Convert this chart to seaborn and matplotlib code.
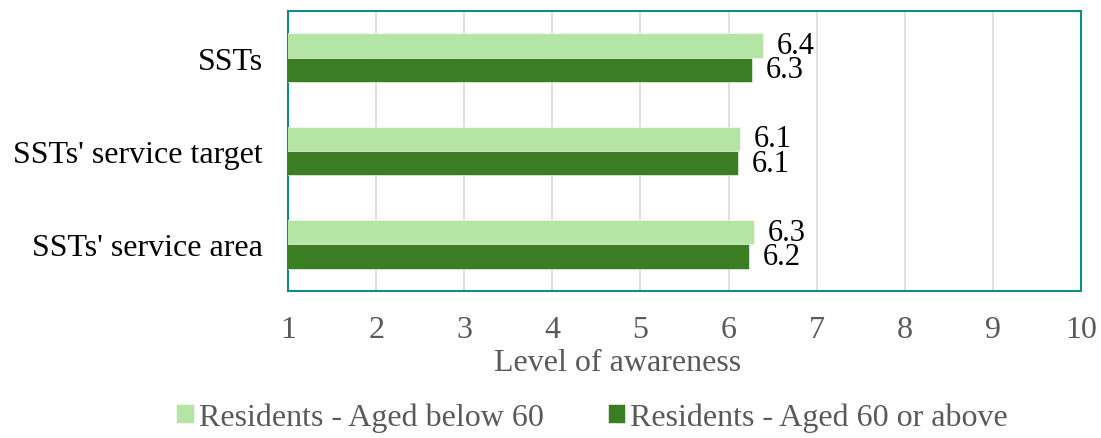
import matplotlib
matplotlib.use("Agg")
import matplotlib.pyplot as plt
import seaborn as sns
import pandas as pd

categories = ["SSTs", "SSTs' service target", "SSTs' service area"]
below_60 = [6.39, 6.13, 6.29]
above_60 = [6.27, 6.11, 6.23]
groups = ["Residents - Aged below 60", "Residents - Aged 60 or above"]
colors = ["#B5E5A4", "#3A7D22"]

df = pd.DataFrame({
    "Category": categories * 2,
    "Awareness": below_60 + above_60,
    "Group": [groups[0]] * 3 + [groups[1]] * 3,
})

sns.set_style("white")
plt.rcParams["font.family"] = ["Liberation Serif", "DejaVu Serif"]

fig = plt.figure(figsize=(11.01, 4.39), dpi=100)
ax = fig.add_axes([0.2616, 0.3349, 0.7202, 0.6378])

sns.barplot(data=df, y="Category", x="Awareness", hue="Group", order=categories,
            hue_order=groups, palette=colors, saturation=1, orient="h", width=0.52,
            edgecolor="white", linewidth=0.4, ax=ax, zorder=3)

ax.set_xlim(1, 10)
ax.set_ylim(2.5, -0.5)
ax.set_xticks(range(1, 11))
ax.xaxis.grid(True, color="#D9D9D9", linewidth=1.2, zorder=0)
ax.set_axisbelow(True)
for s in ax.spines.values():
    s.set_color("#108A8A")
    s.set_linewidth(1.5)

# value labels (they overlap a little, as in the original)
for c in ax.containers:
    ax.bar_label(c, fmt="%.1f", padding=10, fontsize=22, color="black")

ax.tick_params(axis="x", labelsize=23, colors="#595959", length=0, pad=17)
ax.tick_params(axis="y", labelsize=23, colors="black", length=0, pad=18)
ax.set_ylabel("")
ax.set_xlabel("Level of awareness", fontsize=23, color="#595959", labelpad=2)
ax.xaxis.set_label_coords(0.415, -0.205)

ax.legend(loc="center", bbox_to_anchor=(0.5377, 0.048), bbox_transform=fig.transFigure,
          ncol=2, frameon=False, fontsize=23, labelcolor="#595959",
          handlelength=0.55, handleheight=0.55, handletextpad=0.15, columnspacing=2.0)

fig.savefig("out.png", dpi=100)
